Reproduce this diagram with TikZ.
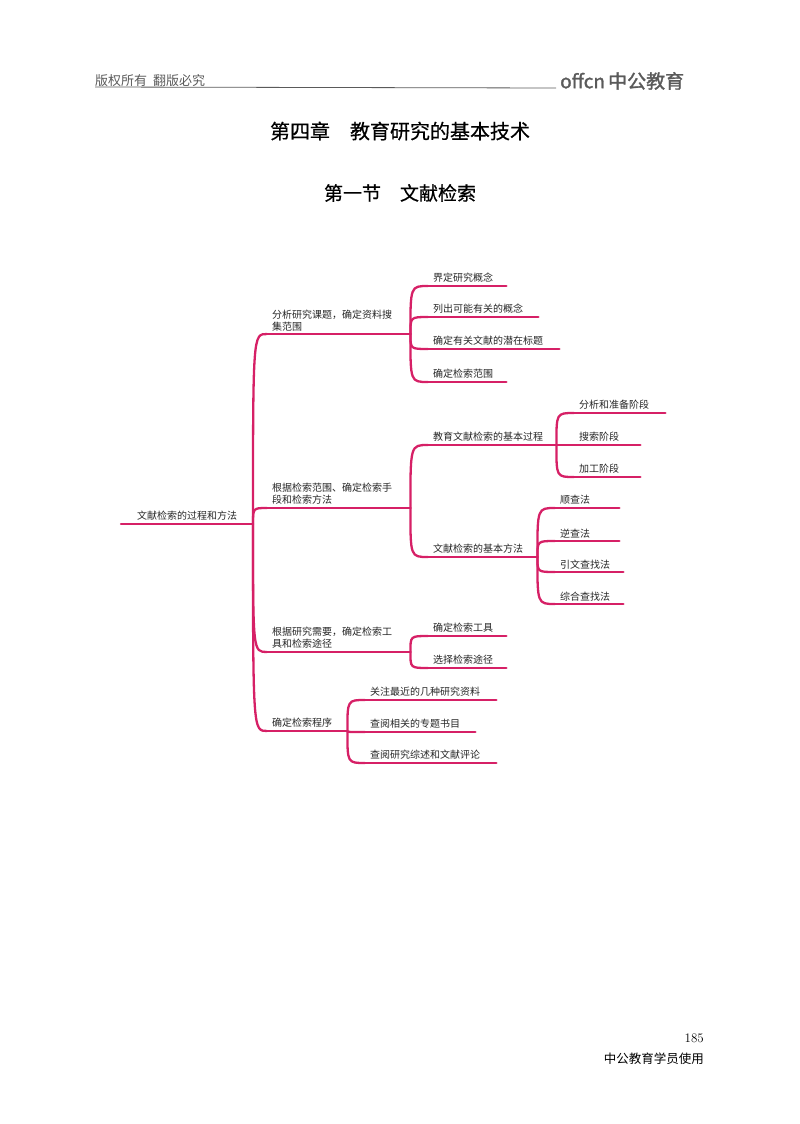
\documentclass[tikz,border=0pt]{standalone}
\usepackage{fontspec}
\newfontfamily\cjk{Noto Sans CJK SC}
\newfontfamily\cjkb[FakeBold=1.5]{Noto Sans CJK SC}
\newfontfamily\cjkm[FakeBold=0.6]{Noto Sans CJK SC}
\definecolor{mm}{RGB}{214,32,102}
\definecolor{hd}{RGB}{90,90,90}
\tikzset{br/.style={draw=mm, line width=2.3pt, line cap=round},
 it/.style={anchor=south west, inner xsep=5pt, inner ysep=3pt, font=\cjk\fontsize{10}{12}\selectfont, align=left, text=black!85}}
\newcommand\mmnode[5]{\node[it, text width=#4pt-10pt] (#1) at (#2,#3) {#5};\draw[br] (#1.south west) -- (#1.south east);}
\newcommand\mmlink[2]{\draw[br] (#1.south east) .. controls (#1.south east |- #2.south west) .. (#2.south west);}
\begin{document}
\begin{tikzpicture}[x=1pt,y=-1pt]
\useasboundingbox (0,0) rectangle (800,1124);
% header
\node[anchor=south west, inner sep=0, font=\cjk\fontsize{13}{15}\selectfont, text=hd] (hl) at (95,87) {版权所有\ \ 翻版必究};
\coordinate (hr) at (556,88);
\draw[hd, line width=0.8pt] (hl.south west) -- (hr);
\node[anchor=south west, inner sep=0, font=\cjkb\fontsize{19}{21}\selectfont, text=hd] (logo) at (560,90) {offcn\,中公教育};
\node[font=\cjkm\fontsize{20}{22}\selectfont] (t1) at (400,131) {第四章\quad 教育研究的基本技术};
\node[font=\cjkm\fontsize{19}{21}\selectfont] (t2) at (400,193) {第一节\quad 文献检索};
% footer
\node[anchor=east, inner sep=0, font=\fontsize{13}{15}\selectfont] (pg) at (704,1038) {185};
\node[anchor=east, inner sep=0, font=\cjk\fontsize{12.5}{15}\selectfont] (ft) at (704,1059) {中公教育学员使用};
% mind map
\node[it, text width=133pt-21pt, inner xsep=0pt] (root) at (121,524) {\hspace*{16pt}文献检索的过程和方法};
\coordinate (rootend) at (253,524);
\draw[br] (root.south west) -- (rootend);
\mmnode{A}{267}{334}{143}{分析研究课题，确定资料搜\\集范围}
\mmnode{B}{267}{508}{143}{根据检索范围、确定检索手\\段和检索方法}
\mmnode{C}{267}{652}{143}{根据研究需要，确定检索工\\具和检索途径}
\mmnode{D}{267}{731}{80}{确定检索程序}
\foreach \n in {A,B,C,D}{\draw[br] (rootend) .. controls (rootend |- \n.south west) .. (\n.south west);}
\mmnode{A1}{428}{286}{78}{界定研究概念}
\mmnode{A2}{428}{317}{110}{列出可能有关的概念}
\mmnode{A3}{428}{349}{131}{确定有关文献的潜在标题}
\mmnode{A4}{428}{382}{78}{确定检索范围}
\foreach \n in {A1,A2,A3,A4}{\mmlink{A}{\n}}
\mmnode{B1}{428}{445}{128}{教育文献检索的基本过程}
\mmnode{B2}{428}{557}{109}{文献检索的基本方法}
\foreach \n in {B1,B2}{\mmlink{B}{\n}}
\mmnode{B11}{574}{413}{91}{分析和准备阶段}
\mmnode{B12}{574}{445}{66}{搜索阶段}
\mmnode{B13}{574}{477}{66}{加工阶段}
\foreach \n in {B11,B12,B13}{\mmlink{B1}{\n}}
\mmnode{B21}{555}{508}{64}{顺查法}
\mmnode{B22}{555}{541}{64}{逆查法}
\mmnode{B23}{555}{572}{68}{引文查找法}
\mmnode{B24}{555}{604}{68}{综合查找法}
\foreach \n in {B21,B22,B23,B24}{\mmlink{B2}{\n}}
\mmnode{C1}{428}{636}{78}{确定检索工具}
\mmnode{C2}{428}{668}{78}{选择检索途径}
\foreach \n in {C1,C2}{\mmlink{C}{\n}}
\mmnode{D1}{365}{700}{131}{关注最近的几种研究资料}
\mmnode{D2}{365}{732}{110}{查阅相关的专题书目}
\mmnode{D3}{365}{763}{131}{查阅研究综述和文献评论}
\foreach \n in {D1,D2,D3}{\mmlink{D}{\n}}
\end{tikzpicture}
\end{document}
